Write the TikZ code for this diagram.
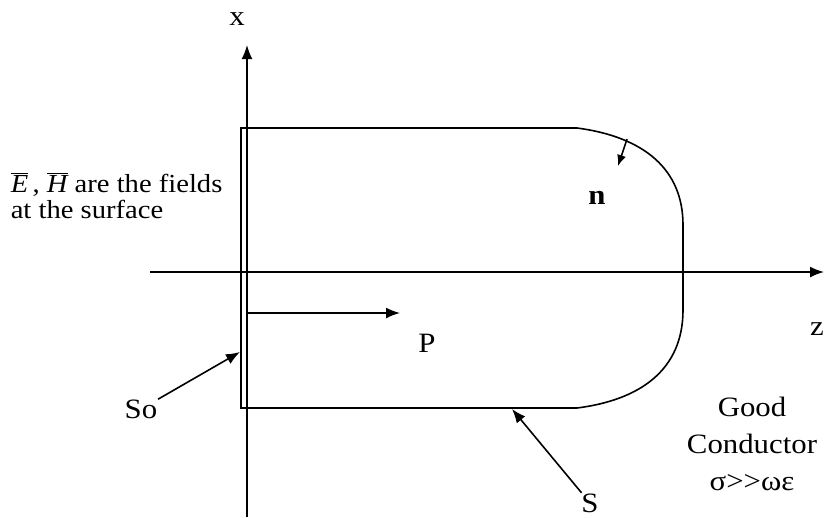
\documentclass[tikz,border=0pt]{standalone}
\usepackage{fontspec}
\setmainfont{Liberation Serif}[FakeStretch=1.1]
\usetikzlibrary{positioning,arrows.meta}

\begin{document}
\begin{tikzpicture}[x=1pt,y=-1pt,>={Latex[length=14pt,width=11pt]},line width=1.6pt,
                    every node/.style={inner sep=0pt, font=\fontsize{28}{37}\selectfont},
                    small/.style={font=\fontsize{26}{33}\selectfont}]
\useasboundingbox (0,0) rectangle (824,517);
% axes
\coordinate (xbot) at (247,517);
\coordinate (xtop) at (247,45);
\coordinate (zleft) at (150,272);
\coordinate (zright) at (824,272);
\draw[->] (xbot) -- (xtop);
\draw[->] (zleft) -- (zright);
\node[anchor=base] (xlab) at (237,25) {x};
\node[anchor=base] (zlab) at (817,335) {z};
% surface S and So
\draw (241,128) -- (577,128) .. controls (645,137) and (683,170) .. (683,225)
      -- (683,310) .. controls (683,370) and (640,400) .. (577,408) -- (241,408) -- cycle;
\coordinate (ntail) at (627,139);
\coordinate (nhead) at (618,166);
\draw[-{Latex[length=11pt,width=9pt]}] (ntail) -- (nhead);
\node (n) at (597,198) {\textbf{n}};
% power flow
\coordinate (ptail) at (247,313);
\coordinate (phead) at (400,313);
\draw[->] (ptail) -- (phead);
\node (plab) at (427,343) {P};
% labels
\node[small, anchor=base west] (fields) at (10,192) {$\overline{\textit{E}}$\,, $\overline{\textit{H}}$ are the fields};
\node[small, anchor=base west] (surf) at (10,218) {at the surface};
\node (so) at (141,409) {So};
\coordinate (sopt) at (240,352);
\draw[->] (so) -- (sopt);
\node (s) at (590,503) {S};
\coordinate (spt) at (512,409);
\draw[->] (s) -- (spt);
\node[align=center, anchor=north] (cond) at (752,396) {Good\\Conductor\\σ>{}>ωε};
\end{tikzpicture}
\end{document}
